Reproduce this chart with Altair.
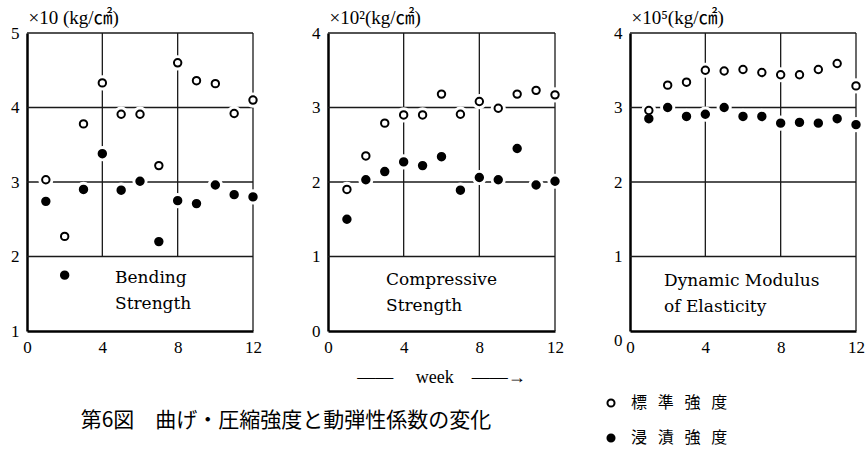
import altair as alt
import pandas as pd

WEEKS = list(range(1, 13))
SERIES = ["標準強度", "浸漬強度"]

BEND_STD = [3.03, 2.27, 3.78, 4.33, 3.91, 3.91, 3.22, 4.60, 4.36, 4.32, 3.92, 4.10]
BEND_IMM = [2.74, 1.75, 2.90, 3.38, 2.89, 3.01, 2.20, 2.75, 2.71, 2.96, 2.83, 2.80]
COMP_STD = [1.90, 2.35, 2.79, 2.90, 2.90, 3.18, 2.91, 3.08, 2.99, 3.18, 3.23, 3.17]
COMP_IMM = [1.50, 2.03, 2.14, 2.27, 2.22, 2.34, 1.89, 2.06, 2.03, 2.45, 1.96, 2.01]
DYN_STD = [2.96, 3.30, 3.34, 3.50, 3.49, 3.51, 3.47, 3.44, 3.44, 3.51, 3.59, 3.29]
DYN_IMM = [2.85, 3.00, 2.88, 2.91, 3.00, 2.88, 2.88, 2.79, 2.80, 2.79, 2.85, 2.77]

UNITS = ["×10 (kg/㎠)", "×10²(kg/㎠)", "×10⁵(kg/㎠)"]
BOX_LABELS = ["Bending\nStrength", "Compressive\nStrength", "Dynamic Modulus\nof Elasticity"]
X_TICKS = [0, 4, 8, 12]
GRID_X = [4, 8]
NB = "\u00a0"
WEEK_TITLE = "——" + NB * 5 + "week" + NB * 4 + "——→"
CAPTION = "第6図　曲げ・圧縮強度と動弾性係数の変化"

SERIF = "Liberation Serif, Times New Roman, serif"
BOXFONT = "DejaVu Serif, serif"
CJK = "Noto Sans CJK JP"
LINE = "#1a1a1a"
H = 298


def panel(std, imm, ymin, ymax, box_top, unit, box_label, lab_x, lab_y, width,
          x_title=None, extra=None, zero_offset=0):
    pts = pd.DataFrame({
        "week": WEEKS * 2,
        "val": std + imm,
        "series": [SERIES[0]] * len(WEEKS) + [SERIES[1]] * len(WEEKS),
    })
    hl = pd.DataFrame({"val": list(range(box_top, ymax + 1))})
    vl = pd.DataFrame({
        "week": GRID_X + [12],
        "val": [box_top] * len(GRID_X) + [ymin],
        "val2": [ymax] * (len(GRID_X) + 1),
    })
    xs = alt.Scale(domain=[0, 12], nice=False, zero=False)
    ys = alt.Scale(domain=[ymin, ymax], nice=False, zero=False)
    xkw = dict(values=X_TICKS, grid=False, ticks=False, domainColor="black",
               domainWidth=2.5, labelFont=SERIF, labelFontSize=17,
               labelColor="black", labelPadding=8, labelFlush=False)
    if x_title:
        xkw.update(title=x_title, titleFont=SERIF, titleFontSize=18,
                   titleFontWeight="normal", titleColor="black", titlePadding=13,
                   titleX=113, titleAlign="center")
    else:
        xkw["title"] = None
    ykw = dict(
        values=list(range(ymin, ymax + 1)), grid=False, ticks=False,
        domainColor="black", domainWidth=2.5, labelFont=SERIF, labelFontSize=17,
        labelColor="black", labelPadding=8, labelFlush=False,
        title=unit, titleAngle=0, titleAlign="left", titleBaseline="middle",
        titleX=1, titleY=-16, titleFont=SERIF + ", " + CJK, titleFontSize=19,
        titleFontWeight="normal", titleColor="black")
    if zero_offset:
        ykw["labelOffset"] = alt.condition("datum.value == 0",
                                           alt.value(zero_offset), alt.value(0))
    X = alt.X("week:Q", scale=xs, axis=alt.Axis(**xkw))
    Y = alt.Y("val:Q", scale=ys, axis=alt.Axis(**ykw))

    hrules = alt.Chart(hl).mark_rule(color=LINE, strokeWidth=1.3).encode(
        y=Y, x=alt.datum(0), x2=alt.datum(12))
    vrules = alt.Chart(vl).mark_rule(color=LINE, strokeWidth=1.3).encode(
        x=X, y=Y, y2=alt.Y2("val2:Q"))
    halos = alt.Chart(pts).mark_circle(size=230, color="white", opacity=1).encode(x=X, y=Y)
    lg = alt.Legend(title=None, orient="none", legendX=576, legendY=362,
                    direction="vertical", symbolType="circle", symbolSize=50,
                    symbolStrokeColor="black", symbolStrokeWidth=2,
                    labelFont=CJK, labelFontSize=16, labelColor="black",
                    labelOffset=12, rowPadding=19,
                    labelExpr="join(split(datum.label, ''), '" + NB * 3 + "')")
    points = alt.Chart(pts).mark_point(
        filled=True, size=55, stroke="black", strokeWidth=2, opacity=1
    ).encode(
        x=X, y=Y,
        fill=alt.Fill("series:N", scale=alt.Scale(domain=SERIES, range=["white", "black"]),
                      legend=lg),
    )
    label = alt.Chart(pd.DataFrame({"t": [box_label]})).mark_text(
        align="left", baseline="middle", lineBreak="\n", lineHeight=26,
        font=BOXFONT, fontSize=17, color="black"
    ).encode(text="t:N", x=alt.value(lab_x), y=alt.value(lab_y))
    layers = [hrules, vrules, halos, points, label]
    if extra is not None:
        layers.append(extra)
    return alt.layer(*layers).properties(width=width, height=H)


caption = alt.Chart(pd.DataFrame({"t": [CAPTION]})).mark_text(
    align="center", baseline="middle", font=CJK, fontSize=21, color="black"
).encode(text="t:N", x=alt.value(259), y=alt.value(388))

p1 = panel(BEND_STD, BEND_IMM, 1, 5, 2, UNITS[0], BOX_LABELS[0], 88, 245, 226, extra=caption)
p2 = panel(COMP_STD, COMP_IMM, 0, 4, 1, UNITS[1], BOX_LABELS[1], 58, 247, 227, x_title=WEEK_TITLE)
p3 = panel(DYN_STD, DYN_IMM, 0, 4, 1, UNITS[2], BOX_LABELS[2], 34, 248, 226, zero_offset=9)

chart = alt.hconcat(p1, p2, p3, spacing=75, bounds="flush").resolve_scale(
    fill="shared").resolve_legend(fill="shared").properties(
    padding={"left": 10, "top": 8, "right": 0, "bottom": 12},
    background="white",
).configure_view(stroke=None)

chart.save("out.html", embed_options={"renderer": "svg", "actions": False})
